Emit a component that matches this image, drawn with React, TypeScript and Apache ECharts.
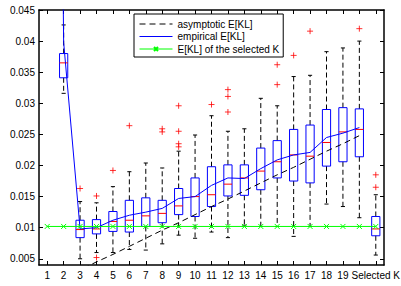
import React, { useEffect, useRef } from "react";
import * as echarts from "echarts";

// x categories (K = 1..19, an unlabelled slot for K = 20, then the selected K)
const categories = ["1","2","3","4","5","6","7","8","9","10","11","12","13","14","15","16","17","18","19","","Selected K"];
const yTicks = [0.005, 0.01, 0.015, 0.02, 0.025, 0.03, 0.035, 0.04, 0.045];

// box plots: category index of each box (K = 2..20 and "Selected K")
const boxPos = [1, 2, 3, 4, 5, 6, 7, 8, 9, 10, 11, 12, 13, 14, 15, 16, 17, 18, 19, 20];
const boxLow = [0.0316, 0.0050, 0.0060, 0.0060, 0.0065, 0.0064, 0.0074, 0.0088, 0.0083, 0.0093, 0.0084, 0.0104, 0.0102, 0.0102, 0.0086, 0.0102, 0.0138, 0.0134, 0.0116, 0.0056];
const boxQ1 = [0.0341, 0.0084, 0.0090, 0.0094, 0.0093, 0.0102, 0.0108, 0.0121, 0.0118, 0.0134, 0.0151, 0.0152, 0.0161, 0.0180, 0.0175, 0.0172, 0.0199, 0.0206, 0.0214, 0.0087];
const boxMedian = [0.0365, 0.0097, 0.0098, 0.0110, 0.0112, 0.0119, 0.0123, 0.0135, 0.0150, 0.0153, 0.0170, 0.0180, 0.0191, 0.0206, 0.0217, 0.0215, 0.0237, 0.0254, 0.0258, 0.0098];
const boxQ3 = [0.0380, 0.0112, 0.0113, 0.0126, 0.0144, 0.0148, 0.0144, 0.0163, 0.0180, 0.0198, 0.0201, 0.0201, 0.0228, 0.0240, 0.0258, 0.0265, 0.0290, 0.0293, 0.0291, 0.0118];
const boxHigh = [0.0426, 0.0142, 0.0140, 0.0166, 0.0190, 0.0204, 0.0196, 0.0223, 0.0249, 0.0280, 0.0255, 0.0259, 0.0308, 0.0296, 0.0343, 0.0345, 0.0383, 0.0389, 0.0400, 0.0153];

// outliers: category index and value
const outlierPos = [2, 3, 3, 4, 5, 7, 7, 8, 8, 8, 8, 10, 11, 11, 11, 14, 14, 15, 16, 19, 20, 20];
const outlierVal = [0.0163, 0.0151, 0.0052, 0.0192, 0.0264, 0.0259, 0.0254, 0.0296, 0.0255, 0.0235, 0.0230, 0.0298, 0.0322, 0.0311, 0.0286, 0.0362, 0.0330, 0.0377, 0.0416, 0.0420, 0.0185, 0.0165];

// lines (K = 1..20)
const asymptotic = [0.0007, 0.0019, 0.0032, 0.0045, 0.0057, 0.0070, 0.0083, 0.0096, 0.0108, 0.0121, 0.0134, 0.0146, 0.0159, 0.0172, 0.0185, 0.0197, 0.0210, 0.0223, 0.0235, 0.0248];
const empirical = [0.3, 0.0398, 0.0098, 0.0100, 0.0112, 0.0120, 0.0125, 0.0131, 0.0147, 0.0150, 0.0168, 0.0180, 0.0179, 0.0195, 0.0209, 0.0217, 0.0221, 0.0245, 0.0252, 0.0261];
// K = 1..20 and "Selected K"
const selectedKL = [0.0102, 0.0102, 0.0102, 0.0102, 0.0102, 0.0102, 0.0102, 0.0102, 0.0102, 0.0102, 0.0102, 0.0102, 0.0102, 0.0102, 0.0102, 0.0102, 0.0102, 0.0102, 0.0102, 0.0102, 0.0102];

const FONT = "'Liberation Sans', Arial, Helvetica, sans-serif";

export default function App() {
  const ref = useRef<HTMLDivElement>(null);

  useEffect(() => {
    if (!ref.current) return;
    const chart = echarts.init(ref.current, null, { renderer: "svg" });

    const boxData = boxPos.map((p, i) => [p, boxLow[i], boxQ1[i], boxMedian[i], boxQ3[i], boxHigh[i]]);
    const outlierData = outlierPos.map((p, i) => [p, outlierVal[i]]);

    const axisLine = { show: true, lineStyle: { color: "#000", width: 1.5 } };
    const tick = { show: true, inside: true, length: 4, lineStyle: { color: "#000", width: 1 } };
    const noSymbol = { color: "rgba(0,0,0,0)", borderWidth: 0, opacity: 0 };

    const option: any = {
      animation: false,
      grid: { left: 39, right: 17, top: 10, bottom: 21, containLabel: false, outerBoundsMode: "none" },
      legend: {
        orient: "vertical",
        left: 134,
        top: 14,
        padding: [5, 4, 3, 5],
        itemGap: 2.5,
        itemWidth: 33,
        itemHeight: 5,
        borderColor: "#000",
        borderWidth: 1,
        backgroundColor: "#fff",
        lineStyle: { width: 1 },
        textStyle: { fontFamily: FONT, fontSize: 10, color: "#000" },
        data: [
          { name: "asymptotic E[KL]", itemStyle: noSymbol },
          { name: "empirical E[KL]", itemStyle: noSymbol },
          { name: "E[KL] of the selected K" },
        ],
      },
      xAxis: [
        {
          type: "category",
          data: categories,
          boundaryGap: true,
          position: "bottom",
          axisLine,
          axisTick: { ...tick, alignWithLabel: true, interval: 0 },
          axisLabel: { interval: 0, margin: 5, fontFamily: FONT, fontSize: 10, color: "#000" },
          splitLine: { show: false },
        },
        {
          type: "category",
          data: categories,
          boundaryGap: true,
          position: "top",
          axisLine,
          axisTick: { ...tick, alignWithLabel: true, interval: 0 },
          axisLabel: { show: false },
          splitLine: { show: false },
        },
      ],
      yAxis: [
        {
          type: "value",
          min: 0.004,
          max: 0.045,
          position: "left",
          axisLine,
          axisTick: { ...tick, customValues: yTicks },
          axisLabel: { customValues: yTicks, margin: 4, fontFamily: FONT, fontSize: 10, color: "#000" },
          splitLine: { show: false },
        },
        {
          type: "value",
          min: 0.004,
          max: 0.045,
          position: "right",
          axisLine,
          axisTick: { ...tick, customValues: yTicks },
          axisLabel: { show: false },
          splitLine: { show: false },
        },
      ],
      series: [
        {
          type: "custom",
          name: "box",
          z: 2,
          clip: true,
          data: boxData,
          encode: { x: 0, y: [1, 2, 3, 4, 5] },
          renderItem: (params: any, api: any) => {
            const x = api.value(0);
            const low = api.coord([x, api.value(1)]);
            const q1 = api.coord([x, api.value(2)]);
            const med = api.coord([x, api.value(3)]);
            const q3 = api.coord([x, api.value(4)]);
            const high = api.coord([x, api.value(5)]);
            const band = api.size([1, 0])[0];
            const bw = band * 0.5;
            const cw = band * 0.25;
            const cx = low[0];
            const dash = { stroke: "#000", lineWidth: 1, lineDash: [5, 3], fill: "none" };
            const solid = { stroke: "#000", lineWidth: 1, fill: "none" };
            return {
              type: "group",
              children: [
                { type: "line", shape: { x1: cx, y1: q3[1], x2: cx, y2: high[1] }, style: dash },
                { type: "line", shape: { x1: cx, y1: q1[1], x2: cx, y2: low[1] }, style: dash },
                { type: "line", shape: { x1: cx - cw / 2, y1: high[1], x2: cx + cw / 2, y2: high[1] }, style: solid },
                { type: "line", shape: { x1: cx - cw / 2, y1: low[1], x2: cx + cw / 2, y2: low[1] }, style: solid },
                {
                  type: "rect",
                  shape: { x: cx - bw / 2, y: q3[1], width: bw, height: q1[1] - q3[1] },
                  style: { fill: "none", stroke: "#0000ff", lineWidth: 1 },
                },
                { type: "line", shape: { x1: cx - bw / 2, y1: med[1], x2: cx + bw / 2, y2: med[1] }, style: { stroke: "#ff0000", lineWidth: 1 } },
              ],
            };
          },
        },
        {
          type: "scatter",
          name: "outliers",
          z: 4,
          data: outlierData,
          symbol: "path://M5,0L5,10M0,5L10,5",
          symbolSize: 6,
          itemStyle: { color: "rgba(0,0,0,0)", borderColor: "#ff0000", borderWidth: 1 },
        },
        {
          type: "line",
          name: "asymptotic E[KL]",
          z: 3,
          data: asymptotic,
          symbol: "none",
          clip: true,
          lineStyle: { color: "#000", width: 1, type: [6, 4] },
          itemStyle: { color: "#000" },
        },
        {
          type: "line",
          name: "empirical E[KL]",
          z: 3,
          data: empirical,
          symbol: "none",
          clip: true,
          lineStyle: { color: "#0000ff", width: 1 },
          itemStyle: { color: "#0000ff" },
        },
        {
          type: "line",
          name: "E[KL] of the selected K",
          z: 3,
          data: selectedKL,
          symbol: "path://M0,0L10,10M10,0L0,10",
          symbolSize: 5,
          showSymbol: true,
          showAllSymbol: true,
          lineStyle: { color: "#00ff00", width: 1 },
          itemStyle: { color: "#00ff00", borderColor: "#00ff00", borderWidth: 1 },
        },
      ],
    };

    chart.setOption(option);
    return () => chart.dispose();
  }, []);

  return <div ref={ref} style={{ position: "absolute", left: 0, top: 0, width: 401, height: 286 }} />;
}
